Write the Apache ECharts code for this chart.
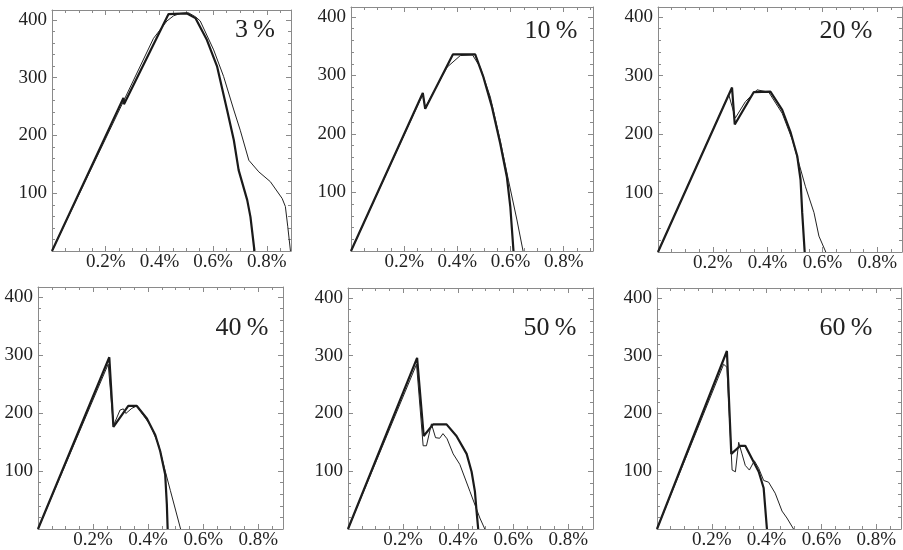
<!DOCTYPE html>
<html lang="en">
<head>
    <meta charset="UTF-8">
    <title>Load-strain curves</title>
    <style>
        html, body { margin: 0; padding: 0; background: #fff; }
        #main { width: 903px; height: 550px; }
    </style>
</head>
<body>
<div id="main"></div>
<script src="https://cdn.jsdelivr.net/npm/echarts@6/dist/echarts.min.js"></script>
<script>
    // panel labels
    var panelNames = ['3\u2009%', '10\u2009%', '20\u2009%', '40\u2009%', '50\u2009%', '60\u2009%'];
    var xTicks = [0.2, 0.4, 0.6, 0.8];
    var yTicks = [100, 200, 300, 400];

    // thick curves (piecewise), [strain %, value]
    var thick3 = [[0, 0], [0.266, 265], [0.268, 254], [0.434, 410], [0.503, 411], [0.534, 403], [0.577, 365],
        [0.615, 319], [0.652, 244], [0.677, 192], [0.695, 140], [0.727, 88], [0.739, 59], [0.754, 0]];
    var thin3 = [[0, 0], [0.378, 368], [0.428, 398], [0.453, 407], [0.478, 411], [0.509, 412], [0.535, 405],
        [0.552, 398], [0.602, 348], [0.639, 302], [0.677, 244], [0.701, 209], [0.733, 157], [0.77, 137],
        [0.813, 120], [0.857, 91], [0.869, 77], [0.878, 42], [0.888, 0]];

    var thick10 = [[0, 0], [0.27, 270], [0.279, 243], [0.383, 336], [0.467, 336], [0.498, 297], [0.53, 246],
        [0.561, 184], [0.586, 127], [0.599, 76], [0.611, 0]];
    var thin10 = [[0, 0], [0.27, 268], [0.279, 245], [0.361, 314], [0.411, 334], [0.457, 335], [0.486, 314],
        [0.524, 263], [0.561, 189], [0.592, 121], [0.624, 53], [0.647, 0]];

    var thick20 = [[0, 0], [0.27, 280], [0.28, 217], [0.349, 272], [0.41, 273], [0.453, 242], [0.484, 203],
        [0.508, 163], [0.52, 123], [0.526, 67], [0.535, 0]];
    var thin20 = [[0, 0], [0.258, 268], [0.282, 228], [0.319, 256], [0.361, 276], [0.404, 272], [0.453, 236],
        [0.49, 191], [0.514, 151], [0.538, 111], [0.569, 67], [0.587, 27], [0.612, 0]];

    var thick40 = [[0, 0], [0.259, 296], [0.274, 176], [0.328, 212], [0.359, 212], [0.396, 190], [0.426, 162],
        [0.444, 134], [0.462, 94], [0.468, 43], [0.471, 0]];
    var thin40 = [[0, 0], [0.255, 284], [0.274, 178], [0.298, 205], [0.31, 207], [0.319, 199], [0.341, 208],
        [0.359, 212], [0.408, 179], [0.438, 145], [0.462, 100], [0.481, 66], [0.518, 0]];

    var thick50 = [[0, 0], [0.251, 296], [0.275, 161], [0.309, 181], [0.358, 181], [0.394, 161], [0.431, 130],
        [0.449, 99], [0.461, 65], [0.467, 31], [0.473, 0]];
    var thin50 = [[0, 0], [0.249, 285], [0.273, 144], [0.285, 144], [0.303, 182], [0.318, 158], [0.333, 157],
        [0.345, 165], [0.36, 156], [0.382, 130], [0.406, 112], [0.443, 65], [0.479, 19], [0.497, 0]];

    var thick60 = [[0, 0], [0.255, 308], [0.271, 130], [0.304, 144], [0.322, 144], [0.347, 121], [0.371, 99],
        [0.389, 71], [0.401, 0]];
    var thin60 = [[0, 0], [0.243, 285], [0.255, 280], [0.274, 102], [0.286, 99], [0.298, 150], [0.31, 130],
        [0.322, 110], [0.337, 102], [0.355, 118], [0.371, 105], [0.389, 84], [0.407, 81], [0.431, 62],
        [0.456, 31], [0.474, 19], [0.498, 0]];

    var thickList = [thick3, thick10, thick20, thick40, thick50, thick60];
    var thinList = [thin3, thin10, thin20, thin40, thin50, thin60];

    var boxes = [
        {left: 52, top: 10, width: 239, height: 241, xMax: 0.89, lx: 255, ly: 30},
        {left: 351, top: 7, width: 242, height: 244, xMax: 0.91, lx: 551, ly: 31},
        {left: 658, top: 7, width: 244, height: 245, xMax: 0.89, lx: 846, ly: 31},
        {left: 38, top: 287, width: 245, height: 246, xMax: 0.89, lx: 242, ly: 328},
        {left: 348, top: 288, width: 245, height: 245, xMax: 0.89, lx: 550, ly: 328},
        {left: 657, top: 288, width: 244, height: 245, xMax: 0.89, lx: 846, ly: 328}
    ];
    var yMax = 417;
    var font = 'Liberation Serif, DejaVu Serif, serif';
    var frameColor = '#8a8a8a';

    function axisBase(withLabels, isX, max) {
        return {
            type: 'value',
            min: 0,
            max: max,
            interval: isX ? 0.2 : 100,
            axisLine: {show: true, onZero: false, lineStyle: {color: frameColor, width: 1}},
            axisTick: {show: true, inside: true, length: 5, lineStyle: {color: frameColor}},
            minorTick: {show: true, splitNumber: isX ? 4 : 5, length: 3, lineStyle: {color: frameColor}},
            splitLine: {show: false},
            axisLabel: {
                show: withLabels,
                showMinLabel: false,
                showMaxLabel: false,
                fontFamily: font,
                fontSize: 19,
                color: '#222',
                margin: isX ? 2 : 5,
                formatter: function (v) {
                    if (isX) {
                        var r = Math.round(v * 10) / 10;
                        return xTicks.indexOf(r) >= 0 ? r + '%' : '';
                    }
                    return yTicks.indexOf(v) >= 0 ? String(v) : '';
                }
            }
        };
    }

    var grid = [], xAxis = [], yAxis = [], series = [], graphic = [];
    boxes.forEach(function (b, i) {
        grid.push({left: b.left, top: b.top, width: b.width, height: b.height, containLabel: false});
        var xb = axisBase(true, true, b.xMax);
        xb.gridIndex = i; xb.position = 'bottom';
        var xt = axisBase(false, true, b.xMax);
        xt.gridIndex = i; xt.position = 'top';
        var yl = axisBase(true, false, yMax);
        yl.gridIndex = i; yl.position = 'left';
        var yr = axisBase(false, false, yMax);
        yr.gridIndex = i; yr.position = 'right';
        xAxis.push(xb, xt);
        yAxis.push(yl, yr);
        series.push({
            type: 'line', xAxisIndex: i * 2, yAxisIndex: i * 2, data: thinList[i],
            symbol: 'none', lineStyle: {color: '#222', width: 1}, z: 3, animation: false
        });
        series.push({
            type: 'line', xAxisIndex: i * 2, yAxisIndex: i * 2, data: thickList[i],
            symbol: 'none', lineStyle: {color: '#1a1a1a', width: 2.2}, z: 2, animation: false
        });
        graphic.push({
            type: 'text', x: b.lx, y: b.ly,
            style: {text: panelNames[i], font: '26px ' + font, fill: '#222', align: 'center', verticalAlign: 'middle'}
        });
    });

    var myChart = echarts.init(document.getElementById('main'));
    myChart.setOption({
        animation: false,
        backgroundColor: '#fff',
        grid: grid,
        xAxis: xAxis,
        yAxis: yAxis,
        series: series,
        graphic: graphic
    });
</script>
</body>
</html>
